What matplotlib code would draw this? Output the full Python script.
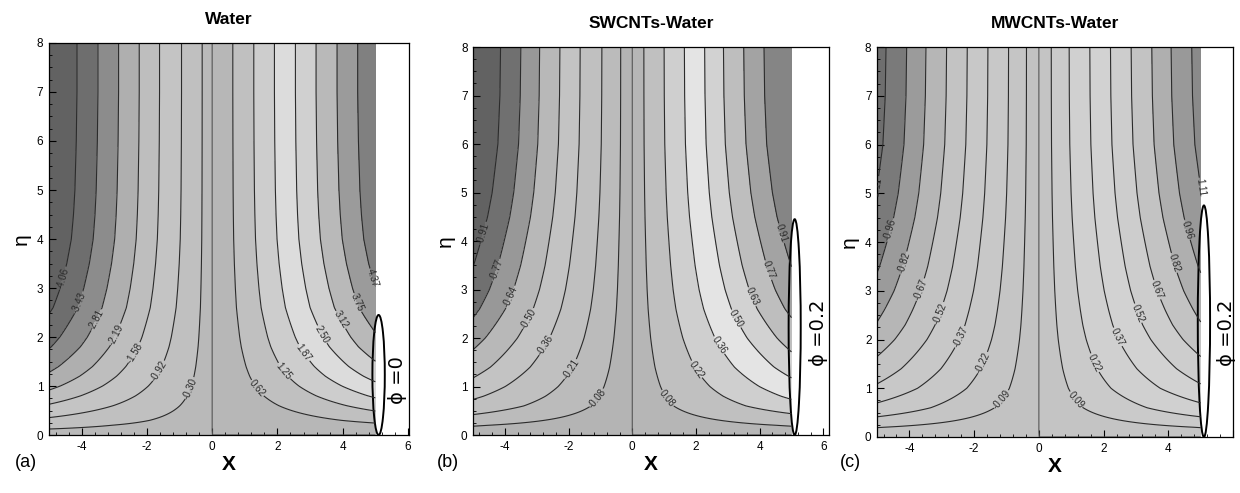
import numpy as np
import matplotlib
matplotlib.use('Agg')
import matplotlib.pyplot as plt
from matplotlib.patches import Ellipse
from matplotlib.ticker import AutoMinorLocator

plt.rcParams['font.family'] = ['Liberation Sans', 'DejaVu Sans']
plt.rcParams['axes.unicode_minus'] = False
plt.rcParams['contour.negative_linestyle'] = 'solid'

# similarity variable and normalised stream-function profiles f(eta)/f(inf)
eta = [0, 0.1, 0.2, 0.3, 0.4, 0.5, 0.6, 0.8, 1.0, 1.2, 1.4, 1.6, 1.8, 2.0,
       2.3, 2.6, 3.0, 3.5, 4.0, 4.5, 5.0, 5.5, 6.0, 7.0, 8.0]
g_water = [0, 0.05, 0.10, 0.16, 0.21, 0.26, 0.31, 0.40, 0.48, 0.55, 0.61, 0.66, 0.71,
           0.75, 0.80, 0.85, 0.89, 0.93, 0.96, 0.975, 0.985, 0.99, 0.995, 1.0, 1.0]
g_swcnt = [0, 0.04, 0.08, 0.13, 0.18, 0.23, 0.28, 0.35, 0.41, 0.46, 0.51, 0.55, 0.59,
           0.63, 0.68, 0.73, 0.78, 0.83, 0.87, 0.91, 0.94, 0.96, 0.98, 0.995, 1.0]
g_mwcnt = [0, 0.04, 0.08, 0.13, 0.18, 0.23, 0.28, 0.35, 0.42, 0.47, 0.52, 0.56, 0.60,
           0.64, 0.69, 0.73, 0.78, 0.83, 0.87, 0.91, 0.94, 0.96, 0.98, 0.995, 1.0]
f_inf = [0.98, 0.22, 0.235]

# contour levels of the stream function
lev_water = [-4.06, -3.43, -2.81, -2.19, -1.58, -0.92, -0.30, 0,
             0.62, 1.25, 1.87, 2.50, 3.12, 3.75, 4.37]
lev_swcnt = [-0.91, -0.77, -0.64, -0.50, -0.36, -0.21, -0.08, 0,
             0.08, 0.22, 0.36, 0.50, 0.63, 0.77, 0.91]
lev_mwcnt = [-1.11, -0.96, -0.82, -0.67, -0.52, -0.37, -0.22, -0.09, 0,
             0.09, 0.22, 0.37, 0.52, 0.67, 0.82, 0.96, 1.11]

# grey shade of every band (below first level ... above last level)
gray_water = [98, 110, 140, 175, 190, 196, 192, 185, 183, 192, 205, 220, 208, 185, 155, 128]
gray_swcnt = [98, 112, 152, 184, 195, 192, 187, 180, 182, 192, 207, 228, 210, 190, 163, 133]
gray_mwcnt = [110, 122, 155, 182, 195, 200, 200, 197, 194, 196, 202, 208, 210, 205, 195,
              175, 153, 138]

titles = ['Water', 'SWCNTs-Water', 'MWCNTs-Water']
tags = ['(a)', '(b)', '(c)']
phi_text = ['ϕ =0', 'ϕ =0.2', 'ϕ =0.2']
ellipse_h = [2.45, 4.45, 4.75]
phi_pos = [(5.67, 1.12), (5.84, 2.1), (5.8, 2.13)]
label_eta = [[0.95, 1.3, 1.68, 2.05, 2.35, 2.7, 3.2],
             [0.75, 1.35, 1.85, 2.4, 2.85, 3.4, 4.16],
             [0.76, 1.52, 2.05, 2.54, 3.02, 3.57, 4.25, 5.1]]

profiles = [g_water, g_swcnt, g_mwcnt]
levels = [lev_water, lev_swcnt, lev_mwcnt]
grays = [gray_water, gray_swcnt, gray_mwcnt]

boxes = [[0.0395, 0.1176, 0.2903, 0.7952],
         [0.3815, 0.1176, 0.2871, 0.7870],
         [0.7073, 0.1136, 0.2871, 0.7910]]
xmax = [6.03, 6.18, 6.0]
tag_x = [0.012, 0.352, 0.677]

x = np.linspace(-5, 5, 400)

fig = plt.figure(figsize=(12.4, 4.93), dpi=100)

for i in range(3):
    ax = fig.add_axes(boxes[i])
    g = np.array(profiles[i])
    X, H = np.meshgrid(x, np.array(eta))
    psi = X * f_inf[i] * g[:, None]

    lev = levels[i]
    fill_lev = [psi.min() - 1] + lev + [psi.max() + 1]
    cols = [str(v / 255) for v in grays[i]]
    ax.contourf(X, H, psi, levels=fill_lev, colors=cols)

    # dividing streamline psi = 0, then the labelled ones
    ax.contour(X, H, psi, levels=[0], colors='#555555', linewidths=0.8)
    neg = sorted([c for c in lev if c < 0], reverse=True)
    pos = sorted([c for c in lev if c > 0])
    cs = ax.contour(X, H, psi, levels=sorted(neg + pos), colors='#2b2b2b', linewidths=0.8)

    spots = []
    for group in (neg, pos):
        for k, c in enumerate(group):
            e = label_eta[i][min(k, len(label_eta[i]) - 1)]
            spots.append((c / (f_inf[i] * np.interp(e, eta, g)), e))
    ax.clabel(cs, fontsize=7, inline=True, inline_spacing=1,
              fmt='%.2f', manual=spots)

    ax.add_patch(Ellipse((5.1, ellipse_h[i] / 2), 0.38, ellipse_h[i],
                         fill=False, ec='black', lw=1.4))
    ax.text(phi_pos[i][0], phi_pos[i][1], phi_text[i], rotation=90, fontsize=14,
            ha='center', va='center', family=['DejaVu Sans'])

    ax.set_xlim(-5, xmax[i])
    ax.set_ylim(0, 8)
    ax.set_xticks([-4, -2, 0, 2, 4, 6])
    if i == 2:
        ax.set_xticklabels(['-4', '-2', '0', '2', '4', ''])
    ax.set_yticks(range(9))
    ax.xaxis.set_minor_locator(AutoMinorLocator(5))
    ax.yaxis.set_minor_locator(AutoMinorLocator(4))
    ax.tick_params(which='major', direction='in', length=5, width=0.8, labelsize=8.5, pad=4)
    ax.tick_params(which='minor', direction='in', length=2.5, width=0.6)
    for s in ax.spines.values():
        s.set_linewidth(0.9)

    ax.set_title(titles[i], fontsize=12.5, fontweight='bold', pad=14)
    ax.set_xlabel('X', fontsize=15, fontweight='bold', labelpad=2)
    ax.set_ylabel('η', fontsize=15, labelpad=4)
    fig.text(tag_x[i], 0.062, tags[i], fontsize=13, ha='left', va='center')

fig.savefig('out.png', dpi=100)
